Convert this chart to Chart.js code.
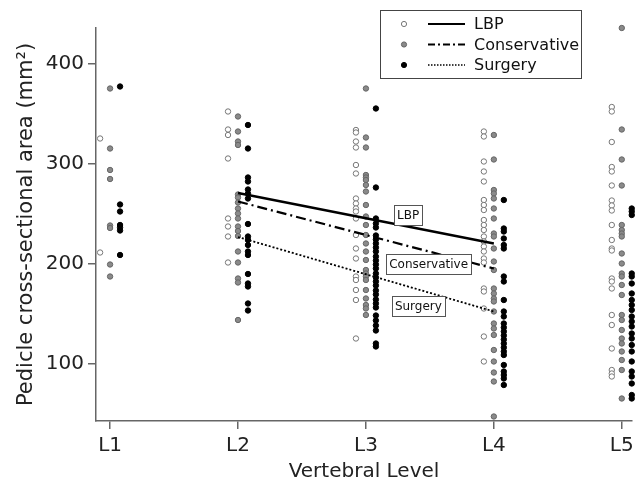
<!DOCTYPE html>
<html lang="en">
<head>
    <meta charset="UTF-8">
    <title>Pedicle cross-sectional area</title>
    <script src="https://cdn.jsdelivr.net/npm/chart.js"></script>
    <style>
        body { margin: 0; background: #fff; }
        #wrap { width: 641px; height: 484px; }
    </style>
</head>
<body>
    <div id="wrap"><canvas id="pedicleChart" width="641" height="484"></canvas></div>

    <script>
        // vertebral levels on the x axis
        var levels = ['L1', 'L2', 'L3', 'L4', 'L5'];
        var yTicks = [100, 200, 300, 400];

        // values per level (L1..L5) for each group, mm^2
        var lbpPoints = [
            [325, 211],
            [352, 334, 328.5, 305, 245, 237, 227, 201],
            [333.5, 331, 322, 316, 298.5, 290, 265, 260, 255, 252, 245, 228.5, 215, 205, 187, 183.5, 173.5, 163.5, 125],
            [332, 327, 302, 292, 282, 263.5, 258.5, 253.5, 243.5, 238.5, 233.5, 227, 222, 217, 212, 205, 201, 175, 172, 155, 127, 102],
            [356.5, 352, 321.5, 296.5, 292, 278, 263, 258, 253, 238.5, 223.5, 215, 213, 185, 182, 175, 148.5, 138.5, 115, 93.5, 90, 87]
        ];
        var conservativePoints = [
            [375, 315, 293.5, 284.5, 238, 235.5, 199, 187],
            [347, 332, 322, 318.5, 269, 266, 261, 255, 250, 245, 237, 232.5, 227.5, 212, 201, 185, 181, 143.5],
            [375, 326, 316, 288.5, 286, 283.5, 278.5, 272, 258.5, 247, 238.5, 228.5, 220, 212, 203.5, 193.5, 190, 187, 183.5, 173.5, 165, 158.5, 155, 148.5],
            [328.5, 304, 273.5, 270, 265, 255, 245, 230, 227, 215, 202, 193.5, 175, 170, 165, 162, 152, 140, 135, 128.5, 113.5, 102, 91, 82, 47],
            [435.5, 334, 304, 278, 238.5, 233.5, 230, 227, 210, 200, 190, 187, 178.5, 168.5, 148.5, 143.5, 133.5, 125, 120, 112, 103.5, 93.5, 65]
        ];
        var surgeryPoints = [
            [377, 259, 252, 238.5, 236, 233, 208.5],
            [338.5, 315, 286, 282, 274, 270, 265, 239.5, 227, 223.5, 218.5, 212, 208.5, 189.5, 180, 177, 160, 153],
            [355, 276, 245, 240, 236, 228, 224, 220, 216, 212, 207, 203, 199, 195, 190, 186, 182, 178, 173, 169, 164, 160, 156, 148, 143, 138, 133, 120, 117],
            [263.5, 235, 232, 225, 218.5, 215, 187, 182, 163.5, 152, 147, 140, 136, 132, 128, 124, 120, 116, 112, 108.5, 98.5, 92, 88.5, 85, 78.5],
            [255, 252, 248.5, 190, 187, 180, 170, 163.5, 158.5, 153.5, 147, 142, 137, 130, 125, 118.5, 112, 102, 92, 87, 80, 68.5, 65]
        ];

        // fitted lines, L2 -> L4
        var lineLevels = [2, 4];
        var lbpLine = [270.5, 220];
        var conservativeLine = [262, 195];
        var surgeryLine = [226.5, 152];

        var groupNames = ['LBP', 'Conservative', 'Surgery'];

        var offset = 0.078; // small horizontal shift between groups

        function toPoints(byLevel, shift) {
            var out = [];
            byLevel.forEach(function (vals, i) {
                vals.forEach(function (v) { out.push({ x: i + 1 + shift, y: v }); });
            });
            return out;
        }
        function toLine(vals) {
            return vals.map(function (v, i) { return { x: lineLevels[i], y: v }; });
        }

        var styles = {
            lbp: { fill: '#ffffff', edge: '#777777', dash: [], width: 2.4 },
            conservative: { fill: '#8a8a8a', edge: '#666666', dash: [10, 4, 2, 4], width: 2.2 },
            surgery: { fill: '#000000', edge: '#000000', dash: [2, 2], width: 1.8 }
        };

        function lineSet(vals, st) {
            return {
                type: 'line', data: toLine(vals), borderColor: '#000', borderWidth: st.width,
                borderDash: st.dash, pointRadius: 0, fill: false, showLine: true, clip: false
            };
        }
        function pointSet(byLevel, shift, st) {
            return {
                type: 'scatter', data: toPoints(byLevel, shift), backgroundColor: st.fill,
                borderColor: st.edge, borderWidth: 1, pointRadius: 2.7, clip: false
            };
        }

        // text boxes next to the lines
        var lineLabels = [
            { text: 'LBP', x: 3.33, y: 248.5 },
            { text: 'Conservative', x: 3.49, y: 199.5 },
            { text: 'Surgery', x: 3.41, y: 157.5 }
        ];

        var boxLabels = {
            id: 'boxLabels',
            afterDatasetsDraw: function (chart) {
                var c = chart.ctx, xs = chart.scales.x, ys = chart.scales.y;
                c.save();
                c.font = '12px "DejaVu Sans"';
                c.textAlign = 'center';
                c.textBaseline = 'middle';
                lineLabels.forEach(function (l) {
                    var px = xs.getPixelForValue(l.x), py = ys.getPixelForValue(l.y);
                    var w = c.measureText(l.text).width + 6, h = 20;
                    c.fillStyle = '#fff';
                    c.fillRect(px - w / 2, py - h / 2, w, h);
                    c.strokeStyle = '#555';
                    c.lineWidth = 1;
                    c.strokeRect(Math.round(px - w / 2) + 0.5, Math.round(py - h / 2) + 0.5, Math.round(w), h);
                    c.fillStyle = '#111';
                    c.fillText(l.text, px, py + 1);
                });
                c.restore();
            }
        };

        var legendBox = {
            id: 'legendBox',
            afterDraw: function (chart) {
                var c = chart.ctx;
                var keys = ['lbp', 'conservative', 'surgery'];
                c.save();
                c.fillStyle = '#fff';
                c.fillRect(380, 10, 201, 68);
                c.strokeStyle = '#444';
                c.lineWidth = 1;
                c.strokeRect(380.5, 10.5, 201, 68);
                c.font = '16px "DejaVu Sans"';
                c.textBaseline = 'middle';
                keys.forEach(function (k, i) {
                    var st = styles[k], y = 24 + i * 20.5;
                    c.beginPath();
                    c.arc(404, y, 2.6, 0, Math.PI * 2);
                    c.fillStyle = st.fill;
                    c.fill();
                    c.strokeStyle = st.edge;
                    c.stroke();
                    c.beginPath();
                    c.setLineDash(k === 'conservative' ? [7, 3, 2, 3] : (k === 'surgery' ? [1.5, 1.5] : []));
                    c.lineWidth = k === 'surgery' ? 1.5 : 2;
                    c.strokeStyle = '#000';
                    c.moveTo(428, y);
                    c.lineTo(465, y);
                    c.stroke();
                    c.setLineDash([]);
                    c.lineWidth = 1;
                    c.fillStyle = '#111';
                    c.fillText(groupNames[i], 474, y + 1);
                });
                c.restore();
            }
        };

        Chart.defaults.font.family = '"DejaVu Sans", sans-serif';
        Chart.defaults.color = '#222';

        var ctx = document.getElementById('pedicleChart').getContext('2d');
        var pedicleChart = new Chart(ctx, {
            type: 'scatter',
            data: {
                datasets: [
                    lineSet(lbpLine, styles.lbp),
                    lineSet(conservativeLine, styles.conservative),
                    lineSet(surgeryLine, styles.surgery),
                    pointSet(surgeryPoints, offset, styles.surgery),
                    pointSet(conservativePoints, 0, styles.conservative),
                    pointSet(lbpPoints, -offset, styles.lbp)
                ]
            },
            options: {
                responsive: false,
                animation: false,
                layout: { padding: { top: 28, right: 9, left: 0, bottom: 0 } },
                plugins: { legend: { display: false }, tooltip: { enabled: false } },
                scales: {
                    x: {
                        type: 'linear', min: 0.89, max: 5.08,
                        afterBuildTicks: function (s) { s.ticks = levels.map(function (_, i) { return { value: i + 1 }; }); },
                        afterFit: function (s) { s.height = 63; },
                        ticks: {
                            font: { size: 20 }, padding: 5, color: '#222',
                            callback: function (v) { return levels[v - 1]; }
                        },
                        grid: { drawOnChartArea: false, drawTicks: true, tickLength: 8, color: '#666', lineWidth: 1.5 },
                        border: { display: true, color: '#666', width: 1.5 },
                        title: { display: true, text: 'Vertebral Level', font: { size: 20 }, color: '#222', padding: { top: 0, bottom: 0 } }
                    },
                    y: {
                        min: 42.5, max: 435.5,
                        afterBuildTicks: function (s) { s.ticks = yTicks.map(function (v) { return { value: v }; }); },
                        afterFit: function (s) { s.width = 96; },
                        ticks: { font: { size: 20 }, padding: 4, color: '#222' },
                        grid: { drawOnChartArea: false, drawTicks: true, tickLength: 8, color: '#666', lineWidth: 1.5 },
                        border: { display: true, color: '#666', width: 1.5 },
                        title: { display: true, text: 'Pedicle cross-sectional area (mm²)', font: { size: 21 }, color: '#222', padding: { top: 14, bottom: 0 } }
                    }
                }
            },
            plugins: [boxLabels, legendBox]
        });
    </script>
</body>
</html>
